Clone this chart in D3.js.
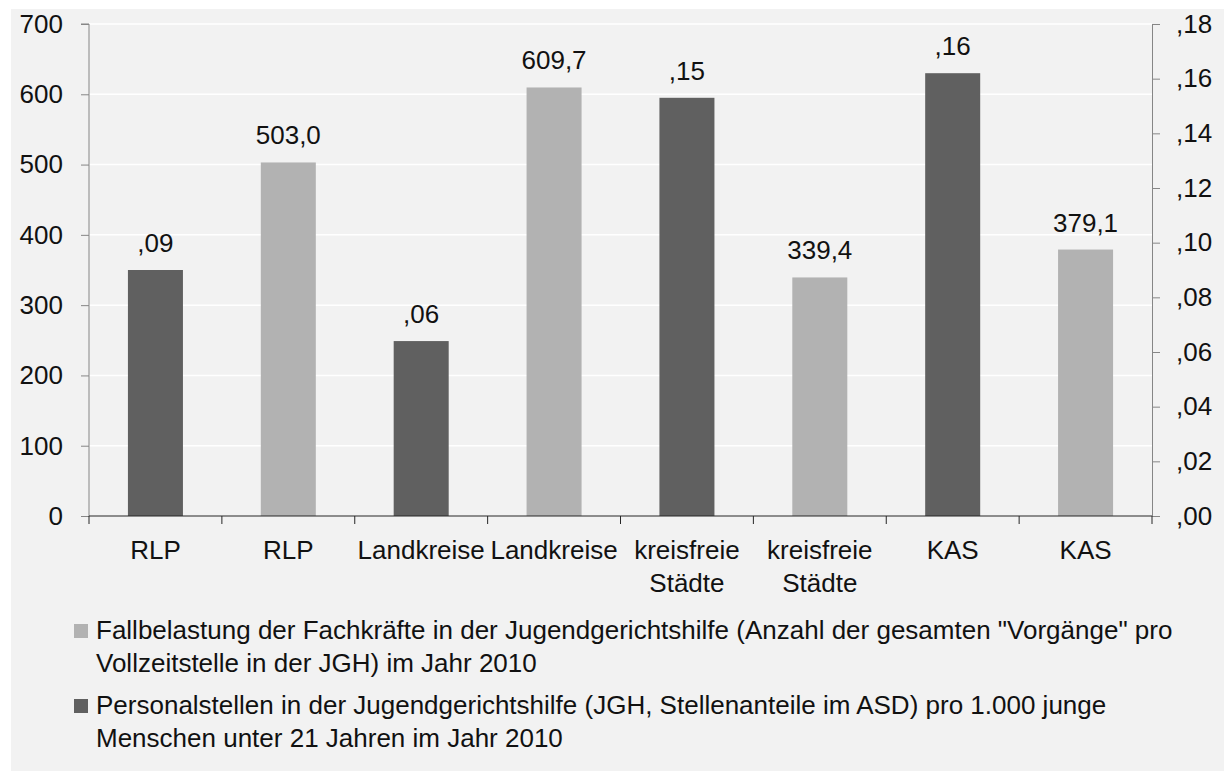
<!DOCTYPE html>
<html>
<head>
<meta charset="utf-8">
<script src="https://cdn.jsdelivr.net/npm/d3@7"></script>
<style>
  html, body { margin: 0; padding: 0; background: #fff; }
  svg { display: block; font-family: "Liberation Sans", Arial, sans-serif; }
</style>
</head>
<body>
<svg id="chart" width="1224" height="771"></svg>
<script>
// Data
const categories = ["RLP", "RLP", "Landkreise", "Landkreise", "kreisfreie Städte", "kreisfreie Städte", "KAS", "KAS"];
// Fallbelastung (left axis), light bars
const fallbelastung = [null, 503.0, null, 609.7, null, 339.4, null, 379.1];
// Personalstellen per 1.000 (right axis), dark bars
const personalstellen = [0.09, null, 0.064, null, 0.153, null, 0.162, null];

const leftTicks = [0, 100, 200, 300, 400, 500, 600, 700];
const rightTicks = [0, 0.02, 0.04, 0.06, 0.08, 0.10, 0.12, 0.14, 0.16, 0.18];

const legendItems = [
  { color: "#b2b2b2", lines: ["Fallbelastung der Fachkräfte in der Jugendgerichtshilfe (Anzahl der gesamten \"Vorgänge\" pro", "Vollzeitstelle in der JGH) im Jahr 2010"] },
  { color: "#606060", lines: ["Personalstellen in der Jugendgerichtshilfe (JGH, Stellenanteile im ASD) pro 1.000 junge", "Menschen unter 21 Jahren im Jahr 2010"] }
];

const de = d3.formatLocale({ decimal: ",", thousands: ".", grouping: [3], currency: ["", " €"] });
const fmtOne = de.format(".1f");
const fmtTwo = v => de.format(".2f")(v).replace(/^0/, "");

const fontSize = 26;

const svg = d3.select("#chart");
const margin = { top: 24, right: 72, bottom: 255, left: 89 };
const W = 1224, H = 771;
const plotW = W - margin.left - margin.right;
const plotH = H - margin.top - margin.bottom;

// panel background
svg.append("rect")
  .attr("x", 11).attr("y", 9)
  .attr("width", W - 11).attr("height", H - 9)
  .attr("fill", "#f2f2f2");

const g = svg.append("g").attr("transform", `translate(${margin.left},${margin.top})`);

const x = d3.scaleBand()
  .domain(d3.range(categories.length))
  .range([0, plotW])
  .paddingInner(0.586)
  .paddingOuter(0.293);

const yLeft = d3.scaleLinear().domain([0, 700]).range([plotH, 0]);
const yRight = d3.scaleLinear().domain([0, 0.18]).range([plotH, 0]);

// gridlines
g.append("g")
  .selectAll("line")
  .data(leftTicks.slice(1))
  .join("line")
  .attr("x1", 0).attr("x2", plotW)
  .attr("y1", d => yLeft(d)).attr("y2", d => yLeft(d))
  .attr("stroke", "#ffffff").attr("stroke-width", 1.5);

// bars
const lightData = fallbelastung.map((v, i) => ({ i, v })).filter(d => d.v != null);
const darkData = personalstellen.map((v, i) => ({ i, v })).filter(d => d.v != null);

g.selectAll("rect.light")
  .data(lightData)
  .join("rect")
  .attr("class", "light")
  .attr("x", d => x(d.i))
  .attr("y", d => yLeft(d.v))
  .attr("width", x.bandwidth())
  .attr("height", d => plotH - yLeft(d.v))
  .attr("fill", "#b2b2b2");

g.selectAll("rect.dark")
  .data(darkData)
  .join("rect")
  .attr("class", "dark")
  .attr("x", d => x(d.i))
  .attr("y", d => yRight(d.v))
  .attr("width", x.bandwidth())
  .attr("height", d => plotH - yRight(d.v))
  .attr("fill", "#606060");

// data labels
g.selectAll("text.lightLabel")
  .data(lightData)
  .join("text")
  .attr("x", d => x(d.i) + x.bandwidth() / 2)
  .attr("y", d => yLeft(d.v) - 18)
  .attr("text-anchor", "middle")
  .attr("font-size", fontSize)
  .attr("fill", "#111")
  .text(d => fmtOne(d.v));

g.selectAll("text.darkLabel")
  .data(darkData)
  .join("text")
  .attr("x", d => x(d.i) + x.bandwidth() / 2)
  .attr("y", d => yRight(d.v) - 18)
  .attr("text-anchor", "middle")
  .attr("font-size", fontSize)
  .attr("fill", "#111")
  .text(d => fmtTwo(d.v));

// left axis
const leftAxis = g.append("g")
  .call(d3.axisLeft(yLeft).tickValues(leftTicks).tickSize(8).tickPadding(18).tickFormat(d3.format("d")));
leftAxis.select(".domain").attr("stroke", "#868686").attr("d", `M-8,0H0V${plotH}`);
leftAxis.selectAll(".tick line").attr("stroke", "#868686");
leftAxis.selectAll("text").attr("font-size", fontSize).attr("fill", "#111").attr("font-family", null);

// right axis
const rightAxis = g.append("g")
  .attr("transform", `translate(${plotW},0)`)
  .call(d3.axisRight(yRight).tickValues(rightTicks).tickSize(8).tickPadding(16).tickFormat(fmtTwo));
rightAxis.select(".domain").attr("stroke", "#868686");
rightAxis.selectAll(".tick line").attr("stroke", "#868686");
rightAxis.selectAll("text").attr("font-size", fontSize).attr("fill", "#111").attr("font-family", null);

// bottom axis: ticks at slot boundaries, labels centered in slots
const xb = d3.scaleLinear().domain([0, categories.length]).range([0, plotW]);
const bottom = g.append("g").attr("transform", `translate(0,${plotH})`);
bottom.append("line")
  .attr("x1", 0).attr("x2", plotW)
  .attr("stroke", "#262626").attr("stroke-width", 1.2);
bottom.selectAll("line.tick")
  .data(d3.range(categories.length + 1))
  .join("line")
  .attr("class", "tick")
  .attr("x1", d => xb(d)).attr("x2", d => xb(d))
  .attr("y1", 0).attr("y2", 8)
  .attr("stroke", "#262626");

const catLabels = bottom.selectAll("text.cat")
  .data(categories)
  .join("text")
  .attr("class", "cat")
  .attr("text-anchor", "middle")
  .attr("font-size", fontSize)
  .attr("fill", "#111");
catLabels.each(function (d, i) {
  const t = d3.select(this);
  d.split(" ").forEach((w, k) => {
    t.append("tspan")
      .attr("x", x(i) + x.bandwidth() / 2)
      .attr("y", 43 + k * 33)
      .text(w);
  });
});

// legend
const legend = svg.append("g");
legendItems.forEach((item, n) => {
  const baseY = 639 + n * 75;
  legend.append("rect")
    .attr("x", 74).attr("y", baseY - 15)
    .attr("width", 14).attr("height", 14)
    .attr("fill", item.color);
  const t = legend.append("text").attr("font-size", 26).attr("fill", "#111");
  item.lines.forEach((line, k) => {
    t.append("tspan").attr("x", 96).attr("y", baseY + k * 33).text(line);
  });
});
</script>
</body>
</html>
